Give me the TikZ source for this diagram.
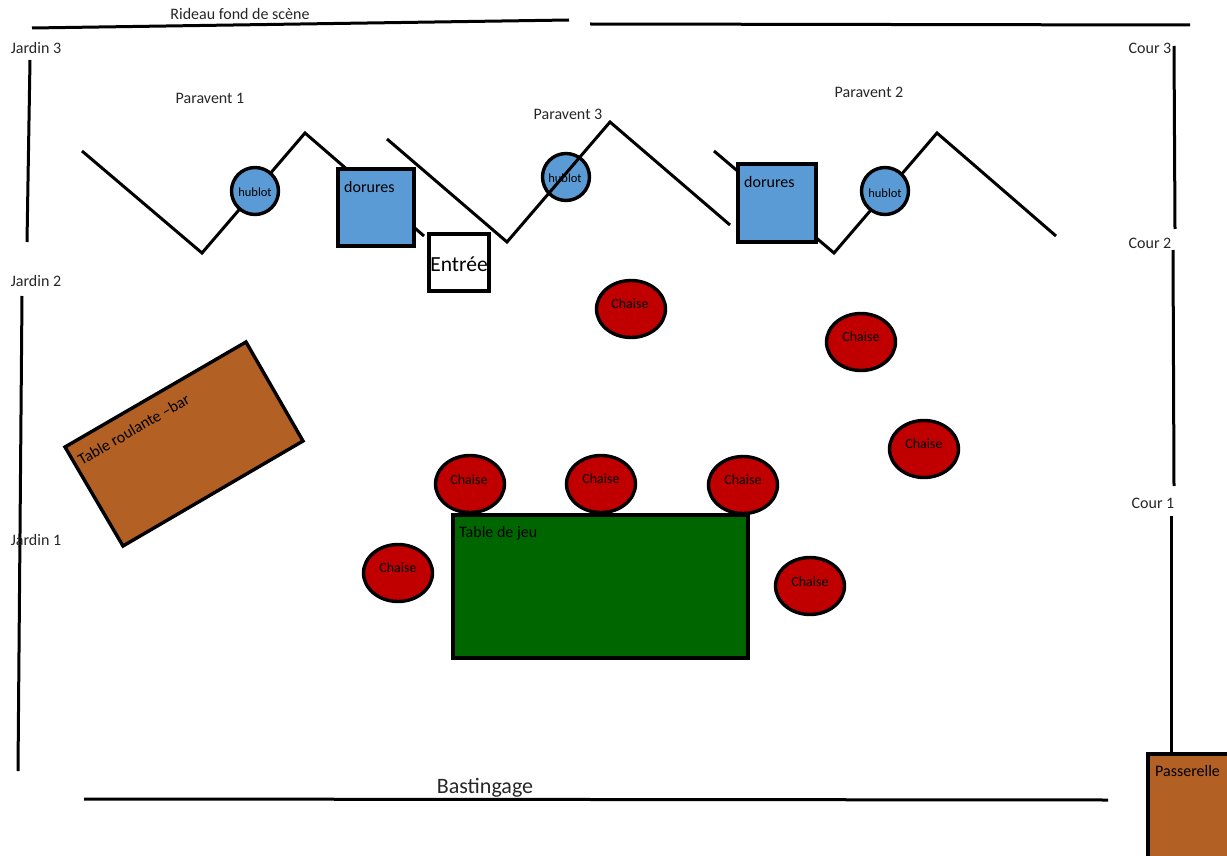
\documentclass[tikz,border=0pt]{standalone}
\usepackage{fontspec}
\setmainfont{Carlito}
\definecolor{bluefill}{HTML}{5B9BD5}
\definecolor{chairred}{HTML}{C00000}
\definecolor{woodbrown}{HTML}{B36024}
\definecolor{tablegreen}{HTML}{006600}
\definecolor{labelgrey}{HTML}{262626}
\tikzset{
  wall/.style={draw=black,line width=3pt,line join=miter},
  lbl/.style={inner sep=0pt,text=labelgrey,font=\fontsize{16}{18}\selectfont},
  blacklbl/.style={inner sep=0pt,text=black,font=\fontsize{16}{18}\selectfont},
  box/.style={draw=black,line width=3.4pt,inner sep=0pt},
  dorurebox/.style={box,fill=bluefill},
  hublotnode/.style={draw=black,line width=3.4pt,fill=bluefill,circle,minimum size=47pt,inner sep=0pt},
  chairnode/.style={draw=black,line width=3.4pt,fill=chairred,ellipse,minimum width=69pt,minimum height=57pt,inner sep=0pt},
  chairtext/.style={inner sep=0pt,text=black,font=\fontsize{14}{16}\selectfont},
  hublottext/.style={inner sep=0pt,text=black,font=\fontsize{12.5}{14}\selectfont}
}
\usetikzlibrary{shapes.geometric}
\begin{document}
\begin{tikzpicture}[x=1pt,y=-1pt]
\useasboundingbox (0,0) rectangle (1227,856);
\clip (0,0) rectangle (1227,856);
% walls
\draw[wall] (32,28) -- (569,20);
\draw[wall] (590,24) -- (1190,25);
\draw[wall] (30,60) -- (27,242);
\draw[wall] (22,296) -- (18,771);
\draw[wall] (1174,46) -- (1175,229);
\draw[wall] (1173,250) -- (1174,486);
\draw[wall] (1171,516) -- (1171,756);
\draw[wall] (84,799) -- (1108,800);
% hublot 3 lies under its screen
\node[hublotnode] (h3) at (566,177) {};
% screens
\draw[wall] (82,151) -- (202,253) -- (305,133) -- (424,236);
\draw[wall] (387,139) -- (507,242) -- (610,122) -- (730,225);
\draw[wall] (714,151) -- (834,253) -- (937,133) -- (1056,236);
\node[hublottext] (h3t) at (565,178) {hublot};
\node[hublotnode] (h1) at (255,191) {};
\node[hublottext] at (255,192) {hublot};
\node[hublotnode] (h2) at (885,191) {};
\node[hublottext] at (885,193) {hublot};
% gilded panels
\draw[dorurebox] (338,169) rectangle (414,246);
\node[blacklbl,anchor=west] (d1) at (344,187) {dorures};
\draw[dorurebox] (738,164) rectangle (816,242);
\node[blacklbl,anchor=west] (d2) at (744,182) {dorures};
% entrance
\draw[box,fill=white] (429,234) rectangle (489,291);
\node[inner sep=0pt,text=black,font=\fontsize{21.5}{24}\selectfont] (entree) at (459,264) {Entrée};
% tables
\draw[box,fill=woodbrown] (246,342) -- (303,441) -- (123,546) -- (65,447) -- cycle;
\node[inner sep=0pt,text=black,font=\fontsize{16}{18}\selectfont,rotate=30,anchor=west] (bar) at (79,461) {Table roulante –bar};
\draw[box,fill=tablegreen] (453,515) rectangle (748,658);
\node[blacklbl,anchor=west] (jeu) at (459,533) {Table de jeu};
\draw[box,fill=woodbrown] (1148,754) rectangle (1240,870);
\node[blacklbl,anchor=west] (pass) at (1155,771) {Passerelle};
% chairs
\foreach \n/\x/\y in {c1/631/309,c2/861/342,c3/924/449,c4/470/484,c5/601/484,c6/743/485,c7/398/573,c8/810/586}{
  \node[chairnode] (\n) at (\x,\y) {};
}
\node[chairtext] at (630,304) {Chaise};
\node[chairtext] at (861,337) {Chaise};
\node[chairtext] at (924,444) {Chaise};
\node[chairtext] at (469,480) {Chaise};
\node[chairtext] at (601,479) {Chaise};
\node[chairtext] at (743,480) {Chaise};
\node[chairtext] at (398,568) {Chaise};
\node[chairtext] at (810,582) {Chaise};
% labels
\node[lbl] (rideau) at (240,14) {Rideau fond de scène};
\node[lbl] (j3) at (36,48) {Jardin 3};
\node[lbl] (j2) at (36,281) {Jardin 2};
\node[lbl] (j1) at (36,540) {Jardin 1};
\node[lbl] (c3l) at (1150,48) {Cour 3};
\node[lbl] (c2l) at (1150,243) {Cour 2};
\node[lbl] (c1l) at (1153,503) {Cour 1};
\node[lbl] (p1) at (210,98) {Paravent 1};
\node[lbl] (p3) at (568,114) {Paravent 3};
\node[lbl] (p2) at (869,92) {Paravent 2};
\node[inner sep=0pt,text=labelgrey,font=\fontsize{22}{24}\selectfont] (bast) at (485,788) {Bastingage};
\end{tikzpicture}
\end{document}
